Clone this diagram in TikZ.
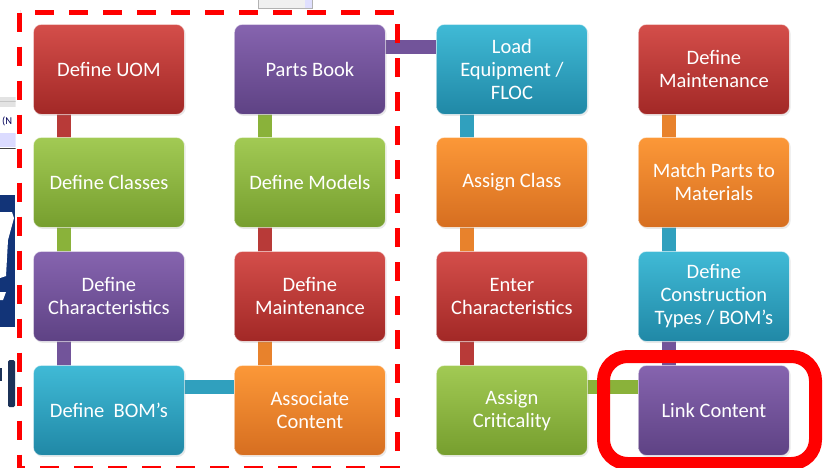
\documentclass[tikz,border=0pt]{standalone}
\usepackage{fontspec}
\setmainfont{Carlito}
\usetikzlibrary{calc,shadows}
\pgfdeclarelayer{background}
\pgfsetlayers{background,main}
\definecolor{redT}{RGB}{212,78,74}
\definecolor{redB}{RGB}{162,40,38}
\definecolor{redM}{RGB}{184,58,56}
\definecolor{grnT}{RGB}{162,202,84}
\definecolor{grnB}{RGB}{118,158,46}
\definecolor{grnM}{RGB}{138,178,58}
\definecolor{purT}{RGB}{134,100,175}
\definecolor{purB}{RGB}{94,66,132}
\definecolor{purM}{RGB}{114,84,154}
\definecolor{cyaT}{RGB}{64,186,214}
\definecolor{cyaB}{RGB}{32,136,166}
\definecolor{cyaM}{RGB}{48,160,190}
\definecolor{oraT}{RGB}{252,152,56}
\definecolor{oraB}{RGB}{214,110,32}
\definecolor{oraM}{RGB}{232,130,44}
\definecolor{navy}{RGB}{18,52,120}
\definecolor{navyD}{RGB}{28,50,88}
\tikzset{
  box/.style={rounded corners=8pt, minimum width=151pt, minimum height=90pt,
    inner sep=0pt, align=center, text=white, anchor=north west,
    font=\fontsize{20.5}{23}\selectfont, draw=white, draw opacity=0.55, line width=0.8pt,
    drop shadow={opacity=0.18, shadow xshift=1.2pt, shadow yshift=-1.5pt}},
  redbox/.style={box, top color=redT, bottom color=redB},
  grnbox/.style={box, top color=grnT, bottom color=grnB},
  purbox/.style={box, top color=purT, bottom color=purB},
  cyabox/.style={box, top color=cyaT, bottom color=cyaB},
  orabox/.style={box, top color=oraT, bottom color=oraB},
  bar/.style={line width=14pt},
}
\begin{document}
\begin{tikzpicture}[x=1pt,y=-1pt]
\useasboundingbox (0,0) rectangle (827,467);

% fragments of the background at the left and top edges
\begin{scope}
\clip (0,95) rectangle (15.5,150);
\fill[gray!22] (0,97) rectangle (15.5,107);
\draw[gray!45] (0,101) -- (15.5,101);
\fill[white] (0,107) rectangle (15.5,133);
\fill[blue!14] (0,133) rectangle (15.5,147);
\draw[black!75, line width=1pt] (0,148) -- (15.5,148);
\end{scope}
\node[anchor=west, inner sep=0pt, text=blue!35!black, font=\fontsize{10.5}{11}\selectfont] (frag) at (2,121) {(N};
\fill[navy] (0,195) rectangle (15,327);
\fill[white] (0,212) -- (12,212) -- (14,218) -- (8,240) -- (6,276) -- (0,278) -- cycle;
\fill[white] (0,292) -- (6,292) -- (3,300) -- (0,300) -- cycle;
\fill[navyD, rounded corners=1.5pt] (8,360) rectangle (15,407);
\fill[navyD] (0,368) rectangle (1.5,381);
\fill[gray!12] (258,0) rectangle (305,8);
\fill[blue!12] (305,0) rectangle (312,8);
\draw[gray!60] (258,0) -- (258,8) -- (312,8) -- (312,0);

% boxes
\node[redbox] (uom)   at (33,24)  {Define UOM};
\node[grnbox] (cls)   at (33,137) {Define Classes};
\node[purbox] (chr)   at (33,251) {Define\\Characteristics};
\node[cyabox] (bom)   at (33,365) {Define~ BOM’s};

\node[purbox] (pb)    at (234,24)  {Parts Book};
\node[grnbox] (mdl)   at (234,137) {Define Models};
\node[redbox] (mnt)   at (234,251) {Define\\Maintenance};
\node[orabox] (asc)   at (234,365) {Associate\\Content};

\node[cyabox] (load)  at (436,24)  {Load\\Equipment /\\FLOC};
\node[orabox] (acl)   at (436,137) {Assign Class};
\node[redbox] (ech)   at (436,251) {Enter\\Characteristics};
\node[grnbox] (acr)   at (436,365) {Assign\\Criticality};

\node[redbox] (mnt2)  at (638,24)  {Define\\Maintenance};
\node[orabox] (mpm)   at (638,137) {Match Parts to\\Materials};
\node[cyabox] (con)   at (638,251) {Define\\Construction\\Types / BOM’s};
\node[purbox] (lnk)   at (638,365) {Link Content};

% connectors
\begin{pgfonlayer}{background}
\draw[bar, redM] ($(uom.south west)+(31,-2)$) -- ($(cls.north west)+(31,2)$);
\draw[bar, grnM] ($(cls.south west)+(31,-2)$) -- ($(chr.north west)+(31,2)$);
\draw[bar, purM] ($(chr.south west)+(31,-2)$) -- ($(bom.north west)+(31,2)$);
\draw[bar, cyaM] ($(bom.north east)+(-2,22)$) -- ($(asc.north west)+(2,22)$);

\draw[bar, oraM] ($(asc.north west)+(31,2)$) -- ($(mnt.south west)+(31,-2)$);
\draw[bar, redM] ($(mnt.north west)+(31,2)$) -- ($(mdl.south west)+(31,-2)$);
\draw[bar, grnM] ($(mdl.north west)+(31,2)$) -- ($(pb.south west)+(31,-2)$);
\draw[bar, purM] ($(pb.north east)+(-2,22.5)$) -- ($(load.north west)+(2,22.5)$);

\draw[bar, cyaM] ($(load.south west)+(31,-2)$) -- ($(acl.north west)+(31,2)$);
\draw[bar, oraM] ($(acl.south west)+(31,-2)$) -- ($(ech.north west)+(31,2)$);
\draw[bar, redM] ($(ech.south west)+(31,-2)$) -- ($(acr.north west)+(31,2)$);
\draw[bar, grnM] ($(acr.north east)+(-2,22)$) -- ($(lnk.north west)+(2,22)$);

\draw[bar, purM] ($(lnk.north west)+(31,2)$) -- ($(con.south west)+(31,-2)$);
\draw[bar, cyaM] ($(con.north west)+(31,2)$) -- ($(mpm.south west)+(31,-2)$);
\draw[bar, oraM] ($(mpm.north west)+(31,2)$) -- ($(mnt2.south west)+(31,-2)$);
\end{pgfonlayer}

% highlight frames
\draw[red, line width=5pt, dash pattern=on 19pt off 15pt] (19.5,12.5) rectangle (397,468);
\draw[red, line width=13pt, rounded corners=24pt] (603.5,356.5) rectangle (815.5,463.5);
\end{tikzpicture}
\end{document}
